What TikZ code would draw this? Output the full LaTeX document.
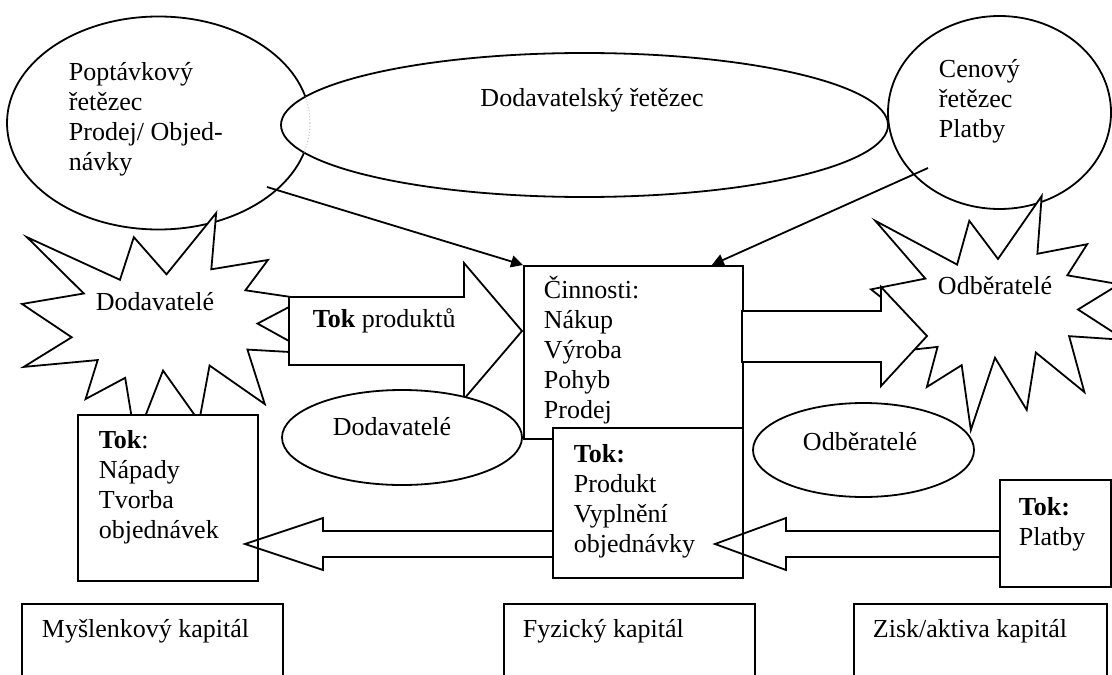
\documentclass[tikz,border=0pt]{standalone}
\usepackage{fontspec}
\setmainfont{Liberation Serif}
\usetikzlibrary{shapes.geometric,arrows.meta}

\newcommand{\firstln}{\rule{0pt}{12pt}}

\tikzset{seal/.pic={
  \draw[blk] (0.500,0.269) -- (0.672,0) -- (0.655,0.247) -- (0.851,0.206) -- (0.773,0.339) -- (0.977,0.377) --
  (0.815,0.485) -- (1,0.615) -- (0.780,0.599) -- (0.840,0.838) -- (0.649,0.669) -- (0.613,0.914) --
  (0.488,0.691) -- (0.393,1) -- (0.357,0.723) -- (0.220,0.816) -- (0.262,0.645) -- (0.006,0.675) --
  (0.172,0.545) -- (0,0.399) -- (0.214,0.353) -- (0.017,0.106) -- (0.339,0.293) -- (0.387,0.106) -- cycle;
}}

\begin{document}
\begin{tikzpicture}[x=0.5pt, y=-0.5pt, line width=0.9pt,
  font=\fontsize{13}{15}\selectfont,
  shp/.style={draw, fill=white, inner sep=0pt},
  ell/.style={shp, ellipse},
  box/.style={shp, rectangle, anchor=north west},
  blk/.style={draw, fill=white},
  hollow/.style={draw},
  lbl/.style={anchor=north west, inner sep=0pt, align=left},
  word/.style={anchor=base, inner sep=0pt},
  conn/.style={-{Triangle[length=6pt,width=6pt]}}]

  \useasboundingbox (0,0) rectangle (1112,674);
  \clip (0,0) rectangle (1112,674);

  % chains on top
  \node[ell, minimum width=151.5pt, minimum height=106.5pt] (dem) at (158.5,123) {};
  \node[ell, minimum width=303.5pt, minimum height=72pt] (sup) at (584.5,125) {};
  \begin{scope}
    \clip (584.5,125) ellipse [x radius=303.5, y radius=72];
    \draw[gray!45, densely dotted, line width=0.5pt] (158.5,123) ellipse [x radius=151.5, y radius=106.5];
  \end{scope}
  \node[ell, minimum width=111.5pt, minimum height=96.5pt] (price) at (999.5,112.5) {};

  % suppliers
  \pic[xscale=289, yscale=228] at (22,213) {seal};
  \draw[blk] (289,297) -- (464,297) -- (464,263) -- (522,331) -- (464,399) -- (464,365) -- (289,365) -- cycle;
  \node[ell, minimum width=120pt, minimum height=47.5pt] (supE) at (402,437.5) {};

  % activities
  \node[box, minimum width=109.5pt, minimum height=86.5pt] (act) at (523,265) {};
  \node[box, minimum width=95pt, minimum height=75pt] (prod) at (552,427) {};

  % customers
  \pic[xscale=254, yscale=234] at (871,196) {seal};
  \draw[blk] (742,311) -- (881,311) -- (881,287) -- (927,336) -- (881,386) -- (881,362) -- (742,362) -- cycle;
  \node[ell, minimum width=110.5pt, minimum height=47pt] (cusE) at (863.5,450) {};

  % flows
  \node[box, minimum width=90pt, minimum height=83pt] (ideas) at (77,414) {};
  \node[box, minimum width=55.5pt, minimum height=53.5pt] (pay) at (999,479) {};
  \draw[hollow] (552,531) -- (323,531) -- (323,518) -- (245,544) -- (323,570) -- (323,557) -- (552,557);
  \draw[hollow] (999,531) -- (786,531) -- (786,518) -- (715,544) -- (786,570) -- (786,557) -- (999,557);

  % capitals
  \node[box, minimum width=130.5pt, minimum height=50pt] (mind) at (21,603) {};
  \node[box, minimum width=125.5pt, minimum height=50pt] (phys) at (503,603) {};
  \node[box, minimum width=126.5pt, minimum height=50pt] (gain) at (853,603) {};

  % connectors
  \coordinate (demS) at (267,187);
  \coordinate (priceS) at (928,168);
  \draw[conn] (demS) -- (act.north west);
  \draw[conn] (priceS) -- ([xshift=-16pt]act.north east);

  % texts
  \node[lbl] (demT) at (68,56) {\firstln Poptávkový\\řetězec\\Prodej/ Objed-\\návky};
  \node[word] (supT) at (592,106) {Dodavatelský řetězec};
  \node[lbl] (priceT) at (938,53) {\firstln Cenový\\řetězec\\Platby};
  \node[word] (supB) at (155,310) {Dodavatelé};
  \node[word, anchor=base west] (flowT) at (312,327) {\textbf{Tok} produktů};
  \node[word] (supL) at ([shift={(-10,-2.5)}]supE.center) {Dodavatelé};
  \node[lbl] (actT) at ([shift={(20,9)}]act.north west) {\firstln Činnosti:\\Nákup\\Výroba\\Pohyb\\Prodej};
  \node[word] (cusB) at (995,294) {Odběratelé};
  \node[word] (cusL) at ([shift={(-3.5,0)}]cusE.center) {Odběratelé};
  \node[lbl] (ideasT) at ([shift={(21,10)}]ideas.north west) {\firstln\textbf{Tok}:\\Nápady\\Tvorba\\objednávek};
  \node[lbl] (prodT) at ([shift={(21,11)}]prod.north west) {\firstln\textbf{Tok:}\\Produkt\\Vyplnění\\objednávky};
  \node[lbl] (payT) at ([shift={(19,12)}]pay.north west) {\firstln\textbf{Tok:}\\Platby};
  \node[word, anchor=base west] (mindT) at ([shift={(20,34)}]mind.north west) {Myšlenkový kapitál};
  \node[word, anchor=base west] (physT) at ([shift={(19,34)}]phys.north west) {Fyzický kapitál};
  \node[word, anchor=base west] (gainT) at ([shift={(19,34)}]gain.north west) {Zisk/aktiva kapitál};
\end{tikzpicture}
\end{document}
